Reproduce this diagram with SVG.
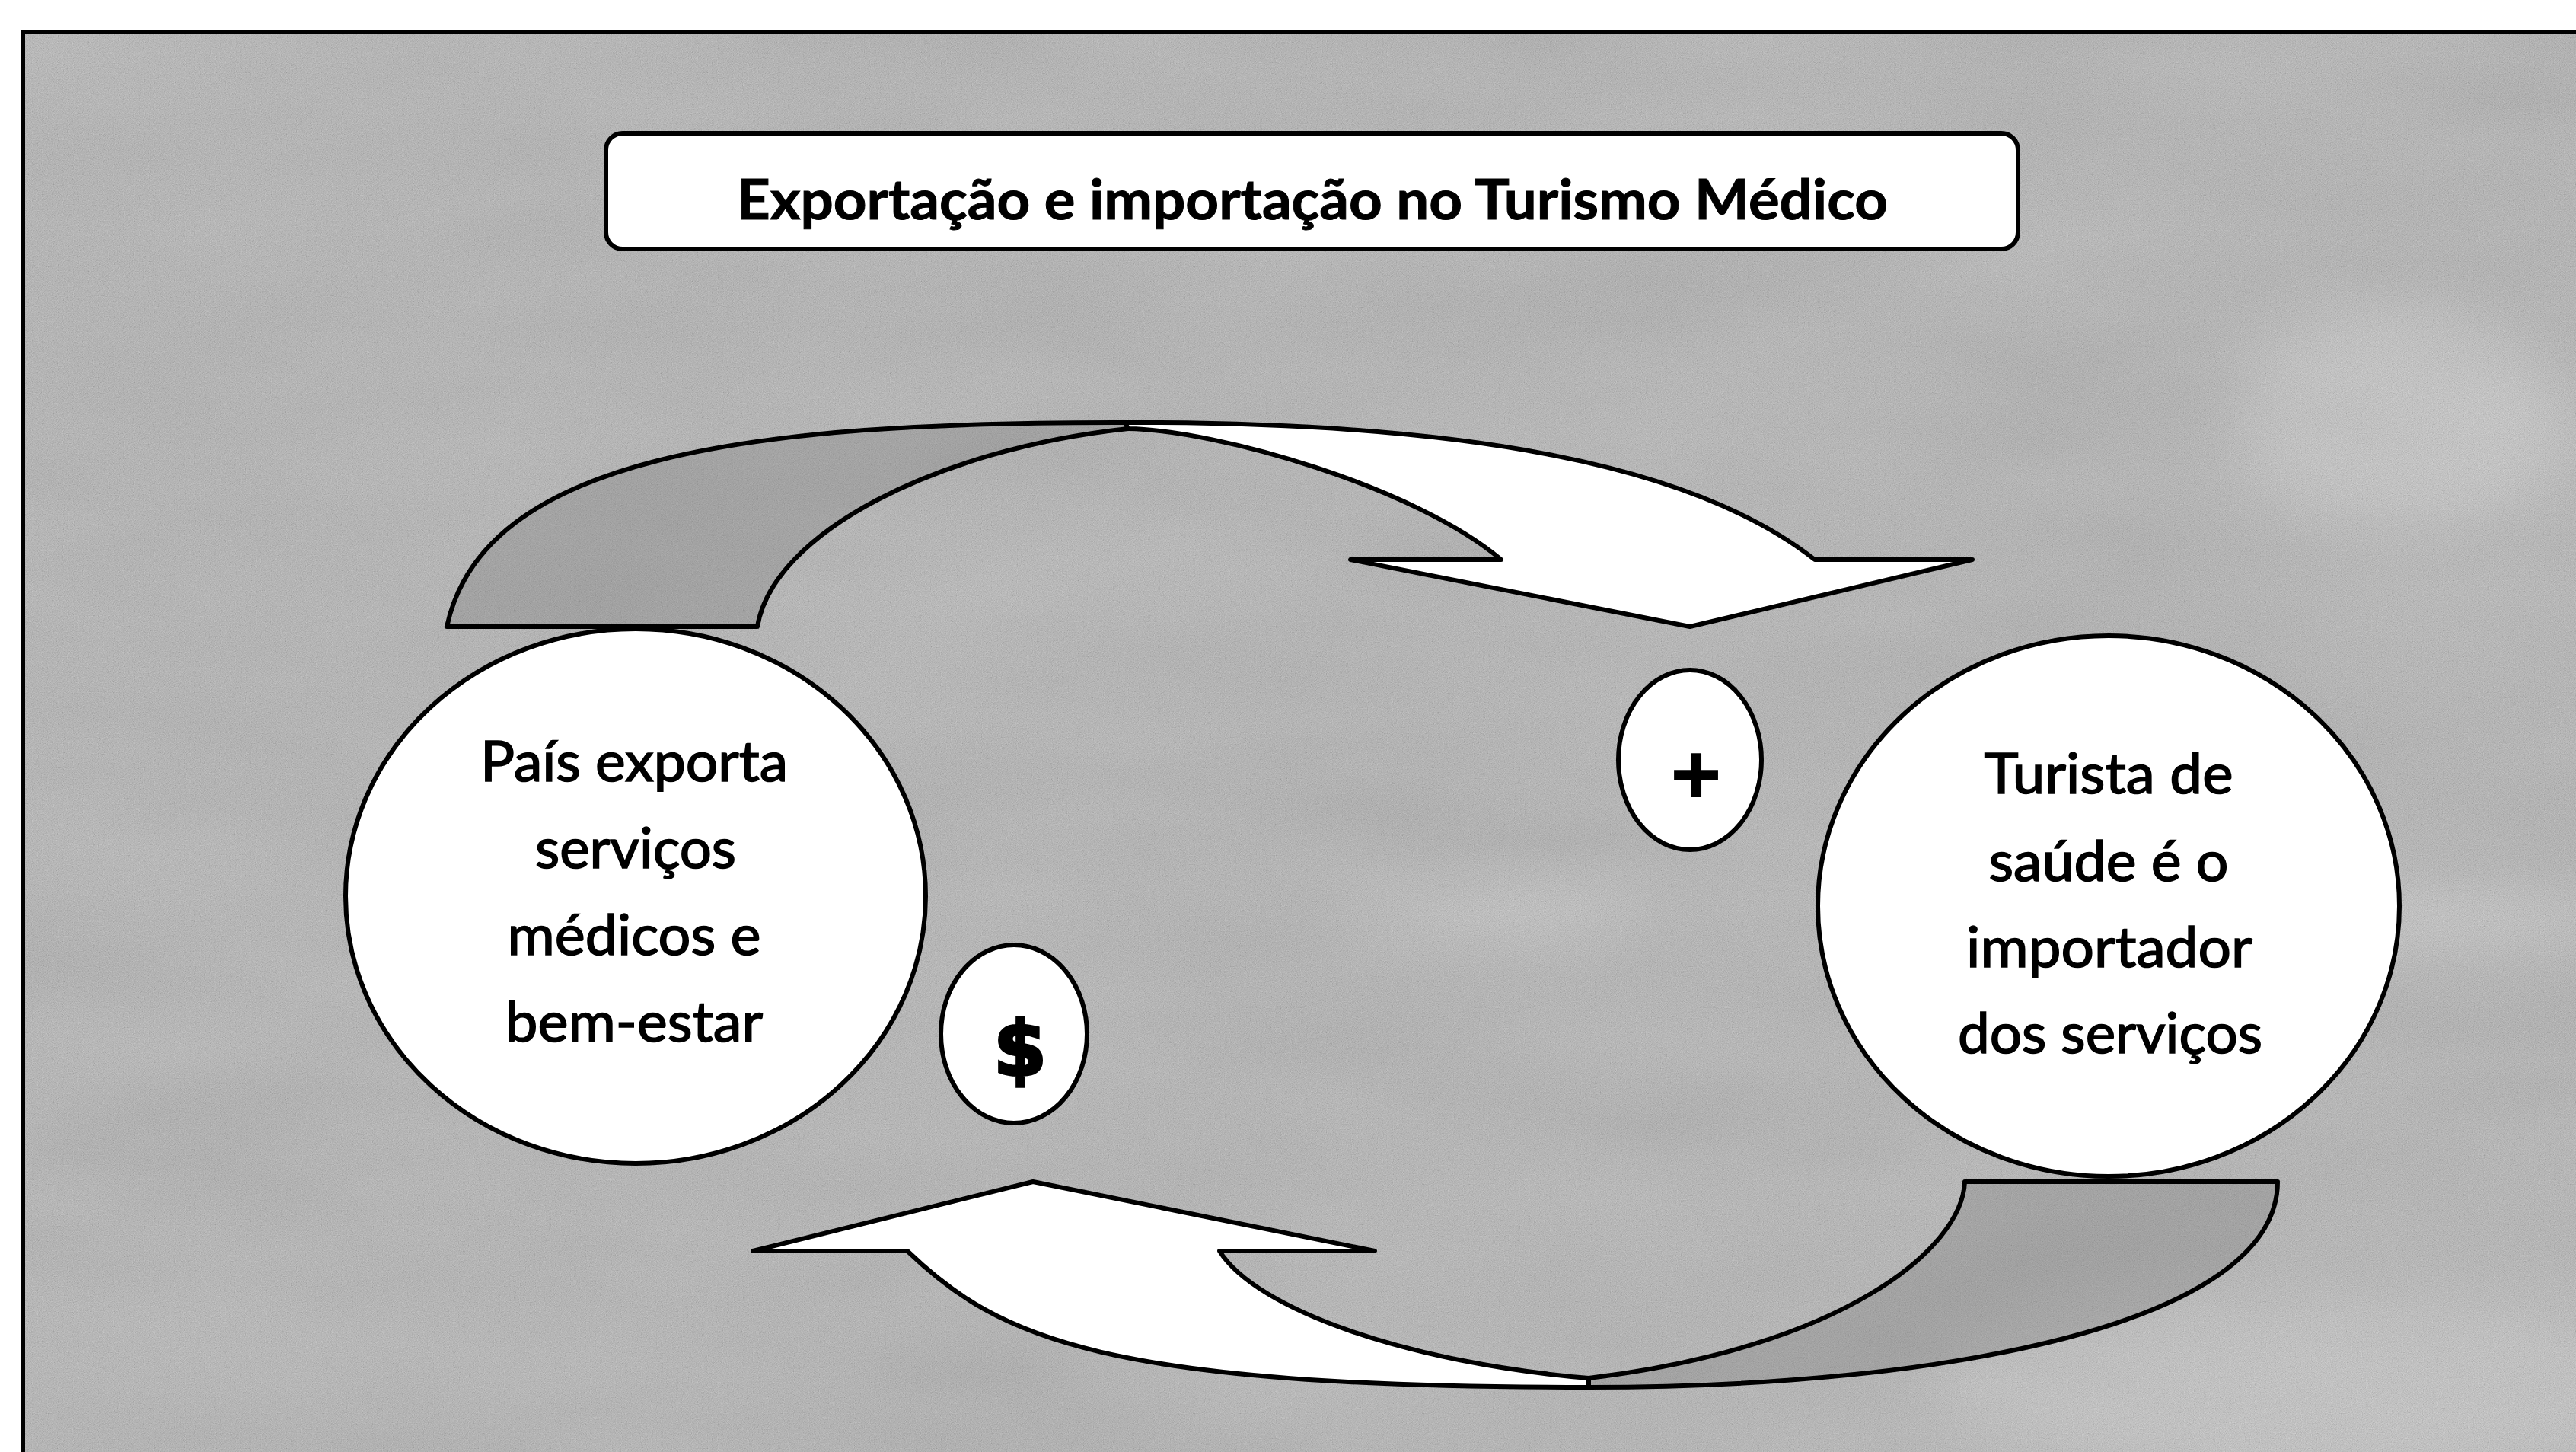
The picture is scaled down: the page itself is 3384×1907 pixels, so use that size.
<svg xmlns="http://www.w3.org/2000/svg" width="3384" height="1907" viewBox="0 0 3384 1907">
<defs>
<style>
.ln{stroke:#000;stroke-width:6;stroke-linejoin:round}
.wt{fill:#fff}
.tail{fill:#6e6e6e;fill-opacity:0.25}
.lbl{font-family:Lato,Carlito,"Liberation Sans",sans-serif;font-size:73px;fill:#000;stroke:#000;stroke-width:1.6;text-anchor:middle}
.ttl{font-weight:bold;stroke-width:1}
.sym{font-family:"DejaVu Sans",sans-serif;font-weight:bold;fill:#000;stroke:#000;text-anchor:middle}
</style>
<filter id="grain" x="0" y="0" width="100%" height="100%">
<feTurbulence type="fractalNoise" baseFrequency="0.85" numOctaves="1" seed="7"/>
<feColorMatrix type="matrix" values="0.33 0.33 0.33 0 0  0.33 0.33 0.33 0 0  0.33 0.33 0.33 0 0  0 0 0 0 0.5"/>
</filter>
<filter id="mottle" x="0" y="0" width="100%" height="100%">
<feTurbulence type="fractalNoise" baseFrequency="0.002 0.006" numOctaves="3" seed="4"/>
<feColorMatrix type="matrix" values="0.33 0.33 0.33 0 0  0.33 0.33 0.33 0 0  0.33 0.33 0.33 0 0  0 0 0 0 0.25"/>
</filter>
<filter id="blur" x="-50%" y="-50%" width="200%" height="200%">
<feGaussianBlur stdDeviation="40"/>
</filter>
</defs>

<g id="background">
<rect x="0" y="0" width="3384" height="1907" fill="#fff"/>
<rect x="30" y="42" width="3354" height="1865" fill="#aaaaaa"/>
<rect x="30" y="42" width="3354" height="1865" filter="url(#mottle)"/>
<g filter="url(#blur)" fill="#fff" fill-opacity="0.3">
<ellipse cx="2950" cy="1210" rx="520" ry="45"/>
<ellipse cx="1950" cy="1195" rx="220" ry="35"/>
<ellipse cx="3050" cy="1820" rx="520" ry="120"/>
<ellipse cx="3150" cy="560" rx="220" ry="140"/>
</g>
<rect x="30" y="42" width="3354" height="1865" filter="url(#grain)"/>
<path d="M30,1907 V42 H3384" fill="none" stroke="#000" stroke-width="6"/>
</g>

<g id="connectors">
<g id="arrow-top">
<path class="tail ln" d="M587,823 C635,600 980,554 1478,555 L1482,563 C1230,590 1015,700 995,823 Z"/>
<path class="wt ln" d="M1478,555 C1930,554 2226,611 2384,735 L2591,735 L2220,823 L1774,735 L1972,735 C1860,640 1600,565 1482,563 Z"/>
</g>
<g id="arrow-bottom">
<path class="tail ln" d="M2087,1822 C2550,1822 2992,1740 2992,1552 L2581,1552 C2578,1640 2420,1770 2087,1810 Z"/>
<path class="wt ln" d="M2087,1822 C1450,1822 1312,1758 1192,1643 L989,1643 L1357,1552 L1806,1643 L1602,1643 C1650,1720 1850,1790 2087,1810 Z"/>
</g>
</g>

<g id="node-exporter">
<ellipse class="wt ln" cx="835" cy="1177" rx="381" ry="351" stroke-width="5"/>
<text class="lbl" x="833" y="1026" textLength="404" lengthAdjust="spacingAndGlyphs">País exporta</text>
<text class="lbl" x="835" y="1140" textLength="264" lengthAdjust="spacingAndGlyphs">serviços</text>
<text class="lbl" x="833" y="1254" textLength="333" lengthAdjust="spacingAndGlyphs">médicos e</text>
<text class="lbl" x="833" y="1368" textLength="338" lengthAdjust="spacingAndGlyphs">bem-estar</text>
</g>

<g id="node-importer">
<ellipse class="wt ln" cx="2770" cy="1190" rx="382" ry="355" stroke-width="5"/>
<text class="lbl" x="2770" y="1042" textLength="327" lengthAdjust="spacingAndGlyphs">Turista de</text>
<text class="lbl" x="2770" y="1157" textLength="315" lengthAdjust="spacingAndGlyphs">saúde é o</text>
<text class="lbl" x="2771" y="1270" textLength="376" lengthAdjust="spacingAndGlyphs">importador</text>
<text class="lbl" x="2772" y="1383" textLength="400" lengthAdjust="spacingAndGlyphs">dos serviços</text>
</g>

<g id="node-plus">
<ellipse class="wt ln" cx="2220" cy="998" rx="94" ry="118" stroke-width="5"/>
<text class="sym" x="2228" y="1045" font-size="86" stroke-width="4">+</text>
</g>

<g id="node-dollar">
<ellipse class="wt ln" cx="1332" cy="1358" rx="96" ry="117" stroke-width="5"/>
<text class="sym" x="1340" y="1412" font-size="100" stroke-width="4">$</text>
</g>

<g id="title">
<rect class="wt ln" x="796" y="175" width="1855" height="152" rx="22"/>
<text class="lbl ttl" x="1724" y="288" textLength="1512" lengthAdjust="spacingAndGlyphs">Exportação e importação no Turismo Médico</text>
</g>
</svg>
